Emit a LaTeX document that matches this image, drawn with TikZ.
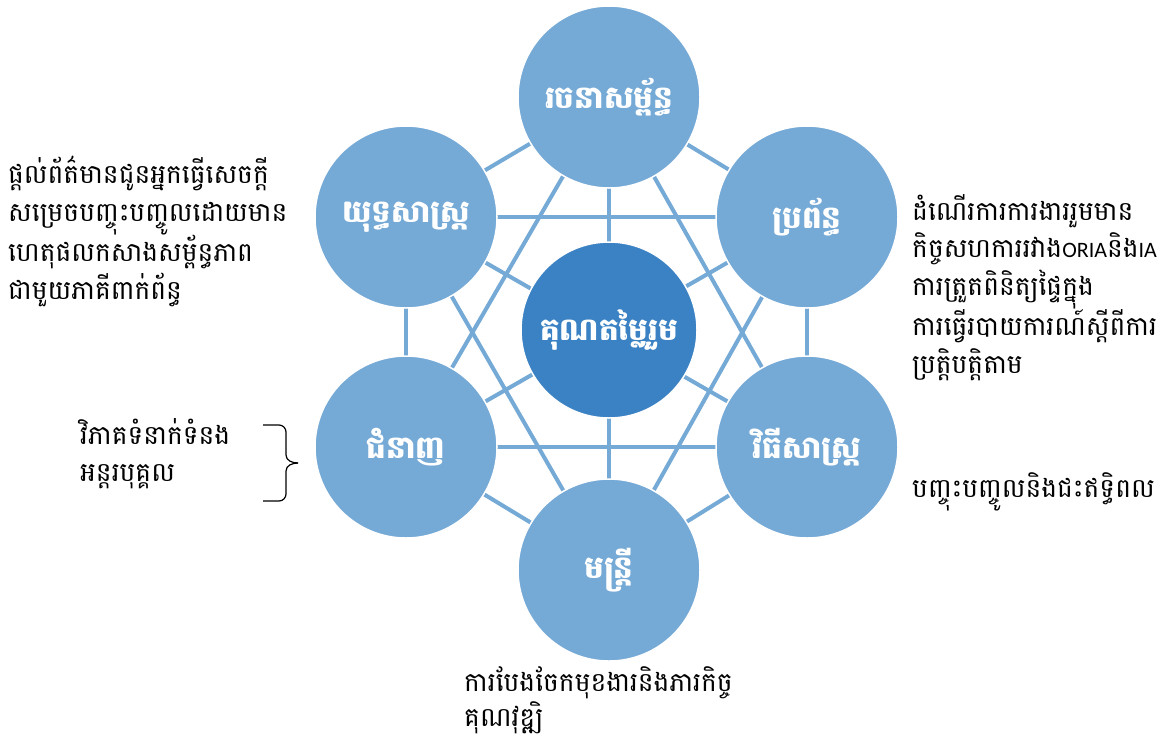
\documentclass[tikz,border=0pt]{standalone}
\usepackage{fontspec}
\newfontfamily\khmer[Script=Khmer]{Battambang}
\newfontfamily\latinf{Carlito}
\definecolor{outerc}{RGB}{117,169,214}
\definecolor{innerc}{RGB}{59,130,196}
\definecolor{linec}{RGB}{117,169,214}
\tikzset{
  outer/.style={circle,fill=outerc,draw=white,line width=1.5pt,minimum size=182pt,inner sep=0pt,text=white,font=\khmer\bfseries\fontsize{31}{38}\selectfont},
  inner/.style={circle,fill=innerc,draw=white,line width=1.5pt,minimum size=176pt,inner sep=0pt,text=white,font=\khmer\bfseries\fontsize{31}{38}\selectfont},
  link/.style={draw=linec,line width=4pt},
  side/.style={align=left,inner sep=0pt,font=\khmer\fontsize{26.5}{37.5}\selectfont,text=black},
}
\newcommand{\lat}[1]{{\latinf\fontsize{22}{37.5}\selectfont #1}}
\begin{document}
\begin{tikzpicture}[x=1pt,y=-1pt]
\useasboundingbox (0,0) rectangle (1167,740);
\coordinate (pT) at (609,97);
\coordinate (pUL) at (406,217);
\coordinate (pUR) at (807,217);
\coordinate (pLL) at (406,447);
\coordinate (pLR) at (807,447);
\coordinate (pB) at (609,570);
\foreach \a/\b in {pT/pUL,pT/pUR,pT/pLL,pT/pLR,pT/pB,pUL/pUR,pUL/pLL,pUL/pLR,pUL/pB,pUR/pLL,pUR/pLR,pUR/pB,pLL/pLR,pLL/pB,pLR/pB}
  \draw[link] (\a) -- (\b);
\node[outer] (T) at (pT) {រចនាសម្ព័ន្ធ};
\node[outer] (UL) at (pUL) {យុទ្ធសាស្ត្រ};
\node[outer] (UR) at (pUR) {ប្រព័ន្ធ};
\node[outer] (LL) at (pLL) {ជំនាញ};
\node[outer] (LR) at (pLR) {វិធីសាស្ត្រ};
\node[outer] (B) at (pB) {មន្ត្រី};
\node[inner] (C) at (609,330) {គុណតម្លៃរួម};
\node[side,anchor=north west] (tUL) at (8,156) {ផ្តល់ព័ត៌មានជូនអ្នកធ្វើសេចក្តី\\សម្រេចបញ្ចុះបញ្ចូលដោយមាន\\ហេតុផលកសាងសម្ព័ន្ធភាព\\ជាមួយភាគីពាក់ព័ន្ធ};
\node[side,anchor=north west] (tUR) at (912,194) {ដំណើរការការងាររួមមាន\\កិច្ចសហការរវាង\lat{ORIA}និង\lat{IA}\\ការត្រួតពិនិត្យផ្ទៃក្នុង\\ការធ្វើរបាយការណ៍ស្តីពីការ\\ប្រត្តិបត្តិតាម};
\node[side,anchor=north west] (tLL) at (80,418) {វិភាគទំនាក់ទំនង\\អន្តរបុគ្គល};
\node[side,anchor=north west] (tLR) at (912,472) {បញ្ចុះបញ្ចូលនិងជះឥទ្ធិពល};
\node[side,anchor=north west,font=\khmer\fontsize{26.5}{35}\selectfont] (tB) at (464,666) {ការបែងចែកមុខងារនិងភារកិច្ច\\គុណវុឌ្ឍិ};
\coordinate (bTop) at (263,425);
\coordinate (bBot) at (263,501);
\coordinate (bTip) at (298,463);
\draw[line width=1.2pt] (bTop) -- ++(16,0) to[out=0,in=90] ++(7,7) -- (286,455) to[out=270,in=180] (bTip);
\draw[line width=1.2pt] (bBot) -- ++(16,0) to[out=0,in=270] ++(7,-7) -- (286,471) to[out=90,in=180] (bTip);
\end{tikzpicture}
\end{document}
